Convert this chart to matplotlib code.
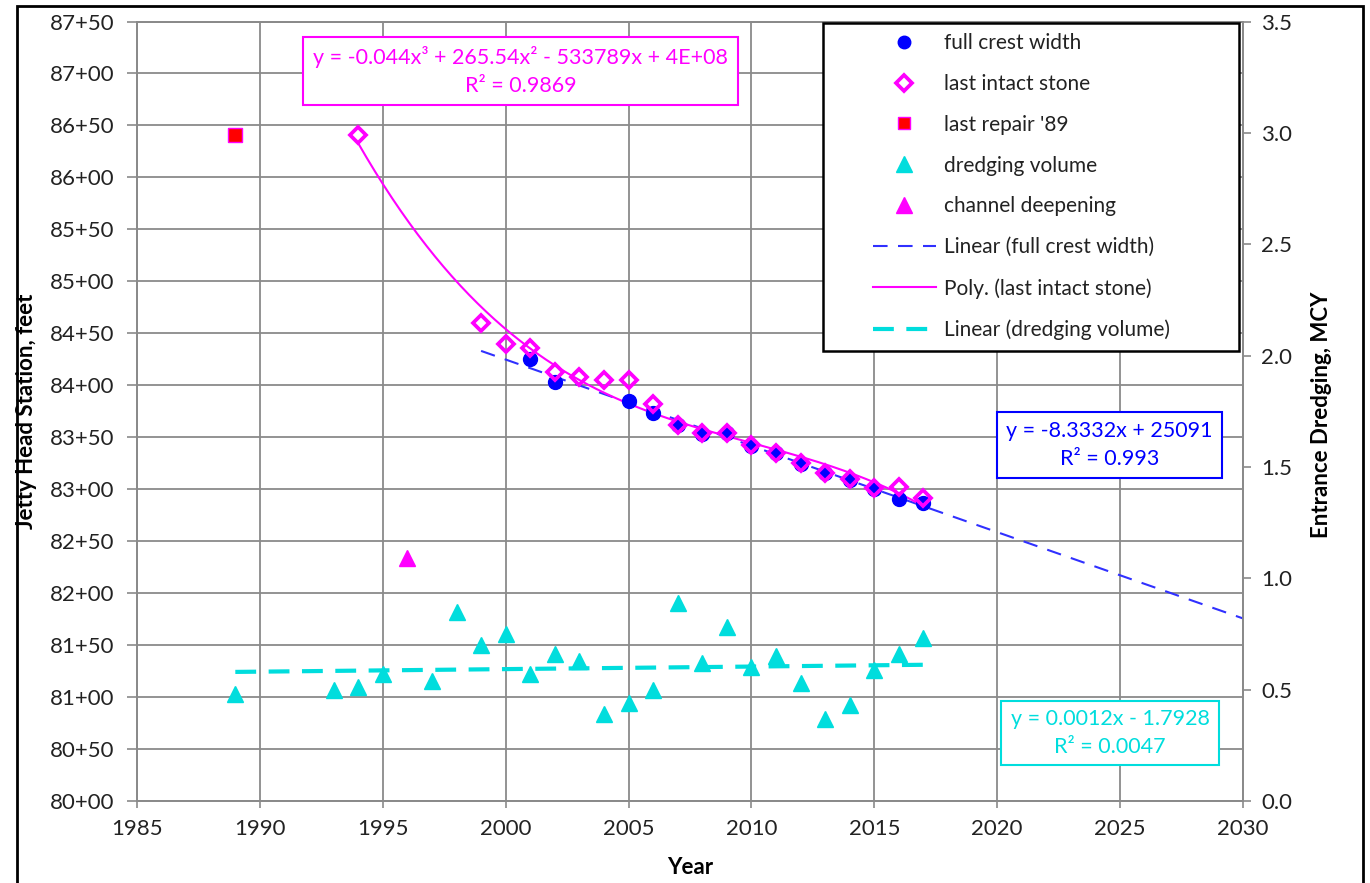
import matplotlib.pyplot as plt
import numpy as np
from matplotlib.patches import Rectangle
from matplotlib.ticker import FuncFormatter, MultipleLocator
from numpy.polynomial import Polynomial

plt.rcParams['font.family'] = ['Lato', 'DejaVu Sans']

# jetty head station (feet) vs year
crest_years = [2001, 2002, 2005, 2006, 2007, 2008, 2009, 2010, 2011, 2012, 2013, 2014, 2015, 2016, 2017]
crest_sta = [8425, 8403, 8385, 8373, 8362, 8353, 8354, 8342, 8335, 8324, 8316, 8309, 8300, 8291, 8287]

intact_years = [1994, 1999, 2000, 2001, 2002, 2003, 2004, 2005, 2006, 2007, 2008, 2009, 2010,
                2011, 2012, 2013, 2014, 2015, 2016, 2017]
intact_sta = [8641, 8460, 8440, 8436, 8413, 8408, 8405, 8405, 8382, 8362, 8354, 8354, 8343,
              8335, 8325, 8316, 8310, 8301, 8302, 8292]

repair_years = [1989]
repair_sta = [8641]

# entrance dredging, MCY
dredge_years = [1989, 1993, 1994, 1995, 1997, 1998, 1999, 2000, 2001, 2002, 2003, 2004, 2005,
                2006, 2007, 2008, 2009, 2010, 2011, 2012, 2013, 2014, 2015, 2016, 2017]
dredge_mcy = [0.48, 0.50, 0.51, 0.57, 0.54, 0.85, 0.70, 0.75, 0.57, 0.66, 0.63, 0.39, 0.44,
              0.50, 0.89, 0.62, 0.78, 0.60, 0.65, 0.53, 0.37, 0.43, 0.59, 0.66, 0.73]
deepen_years = [1996]
deepen_mcy = [1.09]

eq_poly = 'y = -0.044x³ + 265.54x² - 533789x + 4E+08\nR² = 0.9869'
eq_crest = 'y = -8.3332x + 25091\nR² = 0.993'
eq_dredge = 'y = 0.0012x - 1.7928\nR² = 0.0047'

BLUE = '#0000FF'
MAG = '#FF00FF'
CYAN = '#00DDDD'
GRID = '#8a8a8a'

W, H = 1370, 883


def fx(px):
    return px / W


def fy(py):
    return 1 - py / H


fig = plt.figure(figsize=(W / 100, H / 100), dpi=100)
ax = fig.add_axes([fx(137), fy(801), fx(1243 - 137), (801 - 21.5) / H])
ax2 = ax.twinx()

# trend lines
c_fit = np.polyfit(crest_years, crest_sta, 1)
xc = np.array([1999, 2030])
ax.plot(xc, np.polyval(c_fit, xc), color='#3030FF', lw=1.5, ls=(0, (7, 5)), zorder=3)

p_fit = Polynomial.fit(intact_years, intact_sta, 3)
xp = np.linspace(min(intact_years), max(intact_years), 200)
ax.plot(xp, p_fit(xp), color=MAG, lw=1.5, zorder=3)

d_fit = np.polyfit(dredge_years, dredge_mcy, 1)
xd = np.array([min(dredge_years), max(dredge_years)])
ax2.plot(xd, np.polyval(d_fit, xd), color=CYAN, lw=3, ls=(0, (5, 3)), zorder=2)

# markers
ax.plot(crest_years, crest_sta, 'o', color=BLUE, ms=10, zorder=4)
ax.plot(intact_years, intact_sta, 'D', mfc='none', mec=MAG, mew=2.7, ms=8.5, zorder=5)
ax.plot(repair_years, repair_sta, 's', mfc='#FF0000', mec=MAG, mew=1, ms=10, zorder=5)
ax2.plot(dredge_years, dredge_mcy, '^', color=CYAN, ms=11, zorder=3)
ax2.plot(deepen_years, deepen_mcy, '^', color=MAG, ms=11, zorder=3)

# axes
ax.set_xlim(1985, 2030)
ax.set_ylim(8000, 8750)
ax.xaxis.set_major_locator(MultipleLocator(5))
ax.yaxis.set_major_locator(MultipleLocator(50))
ax.yaxis.set_major_formatter(FuncFormatter(lambda v, p: '%d+%02d' % (int(round(v)) // 100, int(round(v)) % 100)))
ax2.set_ylim(0, 3.5)
ax2.yaxis.set_major_locator(MultipleLocator(0.5))
ax2.yaxis.set_major_formatter(FuncFormatter(lambda v, p: '%.1f' % v))

ax.grid(True, color=GRID, lw=1.3)
ax.set_axisbelow(True)
for a in (ax, ax2):
    for s in a.spines.values():
        s.set_color(GRID)
        s.set_linewidth(1.3)
ax.tick_params(axis='y', length=7, width=1.2, color=GRID, pad=9, labelsize=16, labelcolor='#222222')
ax.tick_params(axis='x', length=5, width=1.2, color=GRID, pad=8, labelsize=16, labelcolor='#222222')
ax2.tick_params(axis='y', length=6, width=1.2, color=GRID, pad=7, labelsize=16, labelcolor='#222222')

fig.text(fx(27), fy(411), 'Jetty Head Station, feet', rotation=90, ha='center', va='center',
         fontsize=16, fontweight='bold')
fig.text(fx(1322), fy(415), 'Entrance Dredging, MCY', rotation=90, ha='center', va='center',
         fontsize=16, fontweight='bold')
fig.text(fx(690), fy(868), 'Year', ha='center', va='center', fontsize=16, fontweight='bold')

# equation boxes
boxes = [(303, 37, 738, 105, MAG, eq_poly),
         (997, 412, 1222, 478, BLUE, eq_crest),
         (1001, 701, 1219, 765, CYAN, eq_dredge)]
for x0, y0, x1, y1, col, txt in boxes:
    ax2.add_patch(Rectangle((fx(x0), fy(y1)), fx(x1 - x0), (y1 - y0) / H, transform=fig.transFigure,
                            facecolor='white', edgecolor=col, lw=1.5, zorder=6, clip_on=False))
    ax2.text(fx((x0 + x1) / 2), fy((y0 + y1) / 2), txt, transform=fig.transFigure, ha='center',
             va='center', multialignment='center', color=col, fontsize=15.5, linespacing=1.5, zorder=7)

# legend
ax2.add_patch(Rectangle((fx(823), fy(351)), fx(1239 - 823), (351 - 23) / H, transform=fig.transFigure,
                        facecolor='white', edgecolor='black', lw=1.8, zorder=8, clip_on=False))
handles = [
    plt.Line2D([], [], ls='none', marker='o', color=BLUE, ms=9),
    plt.Line2D([], [], ls='none', marker='D', mfc='white', mec=MAG, mew=2.7, ms=8.5),
    plt.Line2D([], [], ls='none', marker='s', mfc='#FF0000', mec=MAG, mew=1, ms=9),
    plt.Line2D([], [], ls='none', marker='^', color=CYAN, ms=11),
    plt.Line2D([], [], ls='none', marker='^', color=MAG, ms=11),
    plt.Line2D([], [], color='#3030FF', lw=1.5, ls=(0, (7, 5))),
    plt.Line2D([], [], color=MAG, lw=1.5),
    plt.Line2D([], [], color=CYAN, lw=3, ls=(0, (5, 3))),
]
labels = ['full crest width', 'last intact stone', "last repair '89", 'dredging volume',
          'channel deepening', 'Linear (full crest width)', 'Poly. (last intact stone)',
          'Linear (dredging volume)']
leg = ax2.legend(handles, labels, loc='upper left', bbox_to_anchor=(fx(873), fy(33)),
                 bbox_transform=fig.transFigure, frameon=False, borderpad=0, borderaxespad=0,
                 handlelength=3.0, handletextpad=0.4, labelspacing=1.0, fontsize=15)
leg.set_zorder(9)
for t in leg.get_texts():
    t.set_color('#222222')

# outer frame
fig.add_artist(Rectangle((fx(17), -0.05), fx(1363 - 17), fy(6) + 0.05, transform=fig.transFigure,
                         facecolor='none', edgecolor='black', lw=2))

fig.savefig('out.png', dpi=100)
